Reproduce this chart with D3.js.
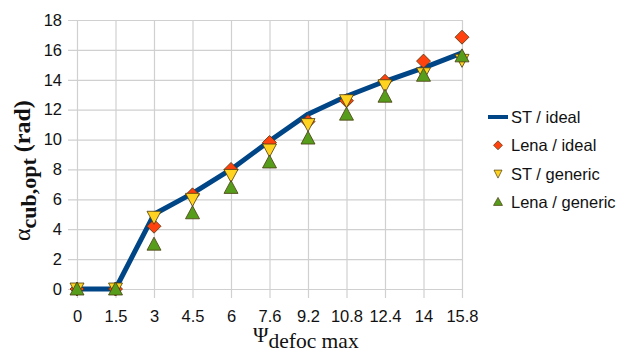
<!DOCTYPE html>
<html>
<head>
    <title>alpha cub opt</title>
    <script src="https://d3js.org/d3.v7.min.js"></script>
    <style>
        body { margin: 0; background: #fff; }
        .tick text { font-family: 'Liberation Sans', Arial, sans-serif; font-size: 16.5px; fill: #111; }
        .leg { font-family: 'Liberation Sans', Arial, sans-serif; font-size: 16.5px; fill: #111; }
        .ttl { font-family: 'Liberation Serif', 'Times New Roman', serif; fill: #111; }
    </style>
</head>
<body>
<svg id="chart" width="621" height="352"></svg>
<script>
    // categories on the x axis
    var psiLabels = ["0", "1.5", "3", "4.5", "6", "7.6", "9.2", "10.8", "12.4", "14", "15.8"];
    var yTicks = [0, 2, 4, 6, 8, 10, 12, 14, 16, 18];

    // series values
    var stIdeal     = [0, 0, 5.0, 6.4, 8.0, 9.9, 11.7, 12.9, 13.9, 14.8, 15.8];
    var lenaIdeal   = [0, 0, 4.2, 6.3, 8.0, 9.8, 11.2, 12.6, 13.9, 15.25, 16.85];
    var stGeneric   = [0, 0, 4.8, 6.0, 7.6, 9.3, 11.0, 12.6, 13.6, 14.4, 15.3];
    var lenaGeneric = [0, 0, 3.0, 5.1, 6.8, 8.5, 10.1, 11.7, 12.9, 14.3, 15.6];

    var svg = d3.select("#chart");

    var x = d3.scalePoint().domain(psiLabels).range([77, 462]);
    var y = d3.scaleLinear().domain([0, 18]).range([289, 20]);

    // grid
    svg.append("g").selectAll("line").data(yTicks).enter().append("line")
        .attr("x1", 68).attr("x2", 462)
        .attr("y1", function(d) { return y(d) + 0.5; })
        .attr("y2", function(d) { return y(d) + 0.5; })
        .attr("stroke", "#d0d0d0").attr("stroke-width", 1.2);
    svg.append("g").selectAll("line").data(psiLabels).enter().append("line")
        .attr("x1", function(d) { return x(d) + 0.5; })
        .attr("x2", function(d) { return x(d) + 0.5; })
        .attr("y1", 20).attr("y2", 298)
        .attr("stroke", "#d0d0d0").attr("stroke-width", 1.2);

    // axes (only labels, lines are the grid)
    var yAxis = svg.append("g").attr("transform", "translate(68,0)")
        .call(d3.axisLeft(y).tickValues(yTicks).tickSize(0).tickPadding(6));
    var xAxis = svg.append("g").attr("transform", "translate(0,298)")
        .call(d3.axisBottom(x).tickSize(0).tickPadding(12));
    yAxis.select(".domain").remove();
    xAxis.select(".domain").remove();

    // ST / ideal line
    var line = d3.line()
        .x(function(d, i) { return x(psiLabels[i]); })
        .y(function(d) { return y(d); });
    svg.append("path").datum(stIdeal)
        .attr("d", line)
        .attr("fill", "none")
        .attr("stroke", "#004586")
        .attr("stroke-width", 5)
        .attr("stroke-linejoin", "round");

    var diamond = "M0,-7L7,0L0,7L-7,0Z";
    var triDown = "M-7,-6L7,-6L0,7Z";
    var triUp = "M0,-7L7,6L-7,6Z";

    function drawMarkers(vals, path, color) {
        svg.append("g").selectAll("path").data(vals).enter().append("path")
            .attr("d", path)
            .attr("transform", function(d, i) { return "translate(" + x(psiLabels[i]) + "," + y(d) + ")"; })
            .attr("fill", color)
            .attr("stroke", "#4a3a10")
            .attr("stroke-width", 0.8);
    }
    drawMarkers(lenaIdeal, diamond, "#ff420e");
    drawMarkers(stGeneric, triDown, "#ffd320");
    drawMarkers(lenaGeneric, triUp, "#579d1c");

    // legend
    var leg = svg.append("g");
    leg.append("line").attr("x1", 488).attr("x2", 508).attr("y1", 117).attr("y2", 117)
        .attr("stroke", "#004586").attr("stroke-width", 4);
    var legItems = [
        { name: "ST / ideal", path: null, color: "#004586" },
        { name: "Lena / ideal", path: "M0,-4.5L4.5,0L0,4.5L-4.5,0Z", color: "#ff420e" },
        { name: "ST / generic", path: "M-4,-3.5L4,-3.5L0,4.5Z", color: "#ffd320" },
        { name: "Lena / generic", path: "M0,-4.5L4.5,3.5L-4.5,3.5Z", color: "#579d1c" }
    ];
    legItems.forEach(function(it, i) {
        var yy = 117 + i * 28.3;
        if (it.path) {
            leg.append("path").attr("d", it.path)
                .attr("transform", "translate(498," + yy + ")")
                .attr("fill", it.color).attr("stroke", "#4a3a10").attr("stroke-width", 0.7);
        }
        leg.append("text").attr("class", "leg")
            .attr("x", 511).attr("y", yy).attr("dy", "0.36em")
            .text(it.name);
    });

    // axis titles
    var xt = svg.append("text").attr("class", "ttl")
        .attr("x", 253).attr("y", 342).attr("font-size", 21);
    xt.append("tspan").text("\u03A8");
    xt.append("tspan").attr("dy", 6).attr("font-size", 21.5).text("defoc max");

    var yt = svg.append("text").attr("class", "ttl")
        .attr("transform", "translate(30,241) rotate(-90)")
        .attr("font-size", 24);
    yt.append("tspan").text("\u03B1");
    yt.append("tspan").attr("dy", 6).attr("font-size", 22).attr("font-weight", "bold").text("cub,opt");
    yt.append("tspan").attr("dy", -6).attr("font-weight", "bold").text(" (rad)");
</script>
</body>
</html>
